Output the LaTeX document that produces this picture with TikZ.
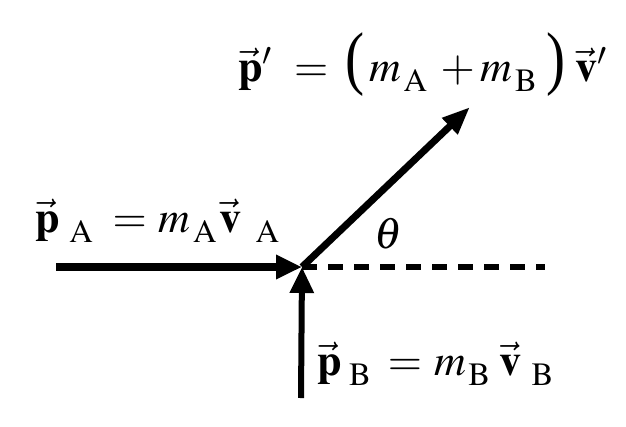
\documentclass[tikz,border=0pt]{standalone}
\usepackage{amsmath}
\usepackage{graphicx}
\usepackage{mathptmx}
\usepackage{fontspec}
\setmainfont{Liberation Serif}
\usepackage{tikz}
\usetikzlibrary{arrows.meta, positioning}

\newcommand{\vb}[1]{\vec{\mathbf{#1}}}
\newcommand{\lsub}[2][4]{\mkern#1mu\lower10pt\hbox{$\scriptstyle\mathrm{#2}$}}
\newcommand{\msub}[1]{\mkern1mu\lower10pt\hbox{$\scriptstyle\mathrm{#1}$}}
\newcommand{\tallparen}[1]{\mathord{\scalebox{1.3}[1.6]{#1}}}

\begin{document}
\begin{tikzpicture}[x=1pt,y=-1pt,
    momentum/.style={line width=7.5pt,-{Triangle[length=26pt,width=23pt]}},
    eqlabel/.style={inner sep=0pt,font=\fontsize{44}{52}\selectfont}]
    \useasboundingbox (0,0) rectangle (626,426);
    \coordinate (O) at (302,267);
    \coordinate (Astart) at (56,267);
    \coordinate (Bstart) at (301,398);
    \coordinate (tip) at (470,107);
    \coordinate (dashend) at (545,267);
    \draw[line width=6pt,dash pattern=on 15pt off 11pt] (O) -- (dashend);
    \draw[momentum] (Astart) -- (O);
    \draw[momentum,line width=6pt] (Bstart) -- (O);
    \draw[momentum,line width=7pt,-{Triangle[length=28pt,width=21pt]}] (O) -- (tip);
    \node[eqlabel,anchor=base west] (pA) at (35,232)
        {$\vb{p}\lsub{A}\mkern4mu=\mkern1mu m\msub{A}\mkern1mu\vb{v}\lsub[6]{A}$};
    \node[eqlabel,anchor=base west] (pB) at (317,375)
        {$\vb{p}\lsub[3]{B}\mkern3mu=\mkern1mu m\msub{B}\mkern4mu\vb{v}\lsub[4]{B}$};
    \node[eqlabel,anchor=base west] (pprime) at (238,81)
        {$\vb{p}'\mkern5mu=\mkern3mu\tallparen{(}\mkern2mu m\msub{A}\mkern3mu+m\msub{B}\mkern4mu\tallparen{)}\mkern4mu\vb{v}'$};
    \node[eqlabel] (theta) at (388,234) {$\theta$};
\end{tikzpicture}
\end{document}
